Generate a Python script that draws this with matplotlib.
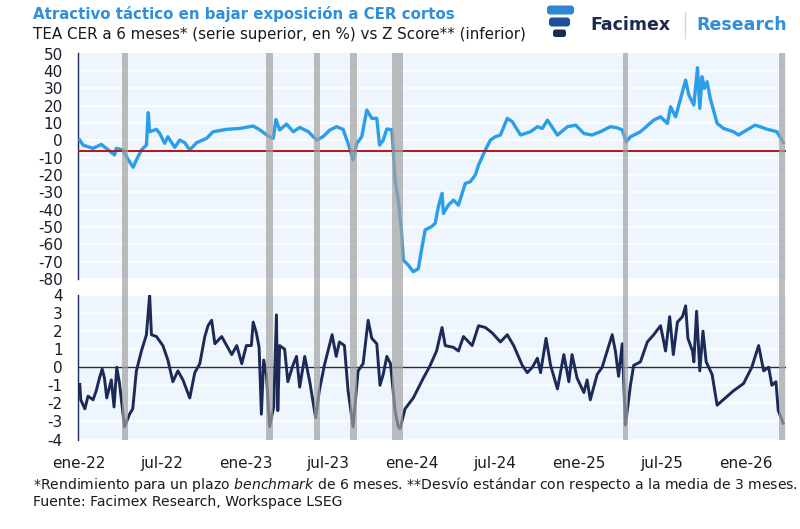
import matplotlib
matplotlib.use("Agg")
import matplotlib.pyplot as plt
import pandas as pd
from matplotlib.patches import FancyBboxPatch

# ---------------- data ----------------
tea_dates = ["2022-01-03", "2022-01-10", "2022-02-01", "2022-02-19", "2022-03-02", "2022-03-20",
             "2022-03-24", "2022-04-08", "2022-04-15", "2022-04-30", "2022-05-07", "2022-05-18",
             "2022-05-29", "2022-06-02", "2022-06-05", "2022-06-20", "2022-06-27", "2022-07-08",
             "2022-07-15", "2022-07-30", "2022-08-10", "2022-08-21", "2022-09-01", "2022-09-16",
             "2022-10-08", "2022-10-22", "2022-11-21", "2022-12-20", "2023-01-18", "2023-02-02",
             "2023-02-20", "2023-03-03", "2023-03-09", "2023-03-17", "2023-04-01", "2023-04-16",
             "2023-04-30", "2023-05-19", "2023-06-06", "2023-06-20", "2023-07-05", "2023-07-20",
             "2023-08-03", "2023-08-14", "2023-08-25", "2023-09-02", "2023-09-13", "2023-09-24",
             "2023-10-05", "2023-10-16", "2023-10-22", "2023-10-30", "2023-11-07", "2023-11-18",
             "2023-11-21", "2023-11-25", "2023-12-02", "2023-12-09", "2023-12-13", "2023-12-24",
             "2024-01-04", "2024-01-15", "2024-01-22", "2024-01-30", "2024-02-13", "2024-02-21",
             "2024-02-28", "2024-03-07", "2024-03-10", "2024-03-21", "2024-04-01", "2024-04-12",
             "2024-04-27", "2024-05-08", "2024-05-19", "2024-05-26", "2024-06-10", "2024-06-21",
             "2024-07-02", "2024-07-13", "2024-07-28", "2024-08-08", "2024-08-26", "2024-09-17",
             "2024-10-02", "2024-10-13", "2024-10-24", "2024-11-15", "2024-12-07", "2024-12-25",
             "2025-01-12", "2025-01-30", "2025-02-17", "2025-03-11", "2025-03-26", "2025-04-06",
             "2025-04-15", "2025-04-24", "2025-05-16", "2025-06-14", "2025-06-29", "2025-07-14",
             "2025-07-21", "2025-08-01", "2025-08-12", "2025-08-23", "2025-08-30", "2025-09-10",
             "2025-09-18", "2025-09-23", "2025-09-28", "2025-10-03", "2025-10-09", "2025-10-16",
             "2025-10-31", "2025-11-14", "2025-12-06", "2025-12-17", "2026-01-04", "2026-01-22",
             "2026-02-02", "2026-02-17", "2026-03-11", "2026-03-25"]
tea_values = [0.0, -2.8, -4.7, -2.4, -4.7, -8.5,
              -4.7, -5.6, -9.5, -15.6, -11.4, -5.6,
              -2.8, 15.9, 4.9, 6.3, 4.0, -1.8,
              2.0, -4.1, 0.1, -1.4, -5.6, -1.4,
              1.1, 4.9, 6.3, 6.8, 8.2, 5.9,
              2.4, 1.1, 12.0, 5.9, 9.3, 4.9,
              7.4, 4.9, 0.1, 2.0, 5.9, 7.8,
              6.3, -1.8, -11.4, -1.8, 2.0, 17.4,
              12.6, 12.6, -2.8, 0.0, 6.5, 6.0,
              -5.6, -23.0, -34.5, -51.7, -69.0, -72.0,
              -75.8, -74.0, -63.3, -51.7, -49.8, -47.9,
              -38.3, -30.6, -42.2, -37.4, -34.5, -37.4,
              -24.9, -23.9, -20.0, -14.3, -5.6, 0.1,
              2.0, 3.0, 12.6, 10.7, 3.0, 4.9,
              7.8, 6.8, 11.6, 3.0, 7.8, 8.7,
              3.9, 3.0, 4.9, 7.8, 7.2, 5.9,
              -0.9, 2.0, 4.9, 11.6, 13.5, 9.7,
              19.3, 13.5, 24.1, 34.7, 26.0, 20.3,
              41.8, 18.4, 36.6, 29.9, 33.7, 24.1,
              9.7, 6.8, 4.9, 3.0, 5.9, 8.7,
              7.8, 6.4, 4.9, -1.3]

z_dates = ["2022-01-03", "2022-01-05", "2022-01-14", "2022-01-21", "2022-02-01", "2022-02-08",
           "2022-02-15", "2022-02-21", "2022-02-26", "2022-03-03", "2022-03-13", "2022-03-19",
           "2022-03-25", "2022-03-31", "2022-04-11", "2022-04-22", "2022-04-29", "2022-05-07",
           "2022-05-18", "2022-05-29", "2022-06-05", "2022-06-09", "2022-06-20", "2022-07-04",
           "2022-07-15", "2022-07-26", "2022-08-06", "2022-08-17", "2022-09-01", "2022-09-12",
           "2022-09-23", "2022-10-04", "2022-10-11", "2022-10-19", "2022-10-26", "2022-11-10",
           "2022-11-21", "2022-12-02", "2022-12-13", "2022-12-24", "2023-01-03", "2023-01-14",
           "2023-01-18", "2023-01-25", "2023-01-31", "2023-02-05", "2023-02-10", "2023-02-16",
           "2023-02-23", "2023-03-04", "2023-03-10", "2023-03-13", "2023-03-17", "2023-03-28",
           "2023-04-04", "2023-04-15", "2023-04-23", "2023-04-30", "2023-05-11", "2023-05-22",
           "2023-06-04", "2023-06-12", "2023-06-23", "2023-07-01", "2023-07-10", "2023-07-19",
           "2023-07-26", "2023-08-06", "2023-08-14", "2023-08-25", "2023-09-05", "2023-09-16",
           "2023-09-27", "2023-10-05", "2023-10-16", "2023-10-23", "2023-10-30", "2023-11-07",
           "2023-11-15", "2023-11-25", "2023-12-02", "2023-12-06", "2023-12-17", "2024-01-04",
           "2024-01-26", "2024-02-09", "2024-02-24", "2024-03-07", "2024-03-14", "2024-04-01",
           "2024-04-12", "2024-04-23", "2024-05-12", "2024-05-26", "2024-06-10", "2024-06-25",
           "2024-07-13", "2024-07-28", "2024-08-11", "2024-08-30", "2024-09-10", "2024-09-21",
           "2024-10-02", "2024-10-09", "2024-10-21", "2024-10-31", "2024-11-15", "2024-11-29",
           "2024-12-10", "2024-12-17", "2024-12-28", "2025-01-12", "2025-01-19", "2025-01-26",
           "2025-02-10", "2025-02-21", "2025-03-04", "2025-03-15", "2025-03-22", "2025-03-29",
           "2025-04-06", "2025-04-13", "2025-04-24", "2025-05-01", "2025-05-16", "2025-05-31",
           "2025-06-14", "2025-06-29", "2025-07-10", "2025-07-19", "2025-07-27", "2025-08-05",
           "2025-08-16", "2025-08-23", "2025-08-28", "2025-09-07", "2025-09-10", "2025-09-16",
           "2025-09-23", "2025-09-30", "2025-10-07", "2025-10-20", "2025-10-31", "2025-11-18",
           "2025-12-06", "2025-12-28", "2026-01-15", "2026-01-30", "2026-02-10", "2026-02-21",
           "2026-02-28", "2026-03-09", "2026-03-14", "2026-03-25"]
z_values = [-0.95, -1.8, -2.3, -1.6, -1.8, -1.3,
            -0.6, -0.1, -0.6, -1.7, -0.7, -2.2,
            0.0, -0.9, -3.3, -2.6, -2.3, -0.2,
            0.9, 1.8, 4.0, 1.8, 1.7, 1.2,
            0.4, -0.8, -0.2, -0.7, -1.7, -0.3,
            0.2, 1.7, 2.3, 2.6, 1.3, 1.7,
            1.2, 0.7, 1.2, 0.2, 1.2, 1.2,
            2.5, 1.9, 1.1, -2.6, 0.4, -0.4,
            -3.3, -2.2, 2.9, -2.4, 1.2, 1.0,
            -0.8, 0.1, 0.6, -1.1, 0.6, -0.8,
            -2.8, -1.3, 0.1, 0.9, 1.8, 0.6,
            1.4, 1.2, -1.3, -3.3, -0.2, 0.2,
            2.6, 1.6, 1.3, -1.0, -0.4, 0.6,
            0.2, -2.4, -3.3, -3.4, -2.3, -1.7,
            -0.6, 0.05, 0.9, 2.2, 1.2, 1.1,
            0.9, 1.7, 1.2, 2.3, 2.2, 1.9,
            1.4, 1.8, 1.2, 0.1, -0.3, 0.0,
            0.5, -0.3, 1.6, 0.1, -1.2, 0.7,
            -0.8, 0.7, -0.6, -1.4, -0.7, -1.8,
            -0.4, 0.0, 0.9, 1.8, 0.9, -0.5,
            1.3, -3.2, -1.0, 0.1, 0.3, 1.4,
            1.8, 2.3, 0.9, 2.8, 0.7, 2.5,
            2.8, 3.4, 1.6, 0.9, 0.3, 3.1,
            -0.2, 2.0, 0.3, -0.4, -2.1, -1.7,
            -1.3, -0.9, 0.0, 1.2, -0.2, 0.0,
            -1.0, -0.8, -2.4, -3.1]

band_starts = ["2022-04-06", "2023-02-16", "2023-05-31", "2023-08-19", "2023-11-19", "2025-04-07", "2026-03-15"]
band_ends = ["2022-04-19", "2023-03-02", "2023-06-14", "2023-09-02", "2023-12-12", "2025-04-19", "2026-03-29"]

threshold = -6
top_ticks = list(range(-80, 51, 10))
bottom_ticks = list(range(-4, 5))
xtick_dates = ["2022-01-01", "2022-07-01", "2023-01-01", "2023-07-01", "2024-01-01",
               "2024-07-01", "2025-01-01", "2025-07-01", "2026-01-01"]
xtick_labels = ["ene-22", "jul-22", "ene-23", "jul-23", "ene-24", "jul-24", "ene-25", "jul-25", "ene-26"]

title = "Atractivo táctico en bajar exposición a CER cortos"
subtitle = "TEA CER a 6 meses* (serie superior, en %) vs Z Score** (inferior)"
note1 = r"*Rendimiento para un plazo $\it{benchmark}$ de 6 meses. **Desvío estándar con respecto a la media de 3 meses."
note2 = "Fuente: Facimex Research, Workspace LSEG"

# ---------------- style ----------------
plt.rcParams["font.family"] = ["DejaVu Sans"]
plt.rcParams["axes.unicode_minus"] = False
NAVY = "#1c2a57"
LIGHT = "#2b9ee8"
BG = "#eff5fc"
BAND = "#a2a2a2"
TXT = "#1b1b2b"

fig = plt.figure(figsize=(8.0, 5.29), dpi=100)
fig.patch.set_facecolor("white")

W, H = 800.0, 529.0
x0, x1 = 78, 786
ax_top = fig.add_axes([x0 / W, 1 - 279 / H, (x1 - x0) / W, (279 - 53.5) / H])
ax_bot = fig.add_axes([x0 / W, 1 - 439.5 / H, (x1 - x0) / W, (439.5 - 295) / H])

td = pd.to_datetime(tea_dates)
zd = pd.to_datetime(z_dates)
xlim = (pd.Timestamp("2021-12-30"), pd.Timestamp("2026-03-31"))

for ax in (ax_top, ax_bot):
    ax.set_facecolor(BG)
    ax.yaxis.grid(True, color="white", lw=1.1)
    ax.set_axisbelow(True)
    for s in ("top", "right", "bottom"):
        ax.spines[s].set_visible(False)
    ax.spines["left"].set_color(NAVY)
    ax.spines["left"].set_linewidth(1.0)
    ax.tick_params(axis="both", length=0, labelsize=11, colors=TXT, pad=11)
    ax.set_xlim(*xlim)

# top panel
ax_top.plot(td, tea_values, color=LIGHT, lw=2.4, zorder=3, solid_joinstyle="round")
ax_top.axhline(threshold, color="#b81414", lw=1.4, zorder=4)
ax_top.set_ylim(-80, 50)
ax_top.set_yticks(top_ticks)
ax_top.set_xticks([])

# bottom panel
ax_bot.plot(zd, z_values, color=NAVY, lw=2.1, zorder=3, solid_joinstyle="round")
ax_bot.axhline(0, color=NAVY, lw=1.0, zorder=2)
ax_bot.set_ylim(-4, 4)
ax_bot.set_yticks(bottom_ticks)
ax_bot.set_xticks(pd.to_datetime(xtick_dates))
ax_bot.set_xticklabels(xtick_labels)
ax_bot.tick_params(axis="x", pad=12)

gap_frac = (295 - 279) / (279 - 53.5)
for s, e in zip(band_starts, band_ends):
    ax_top.axvspan(pd.Timestamp(s), pd.Timestamp(e), ymin=-gap_frac, ymax=1.0,
                   color=BAND, alpha=0.7, lw=0, zorder=5, clip_on=False)
    ax_bot.axvspan(pd.Timestamp(s), pd.Timestamp(e), ymin=0, ymax=1.0,
                   color=BAND, alpha=0.7, lw=0, zorder=5)

# overlay for texts and logo (pixel coordinates)
ov = fig.add_axes([0, 0, 1, 1], zorder=10)
ov.set_xlim(0, W)
ov.set_ylim(H, 0)
ov.axis("off")
ov.patch.set_alpha(0)

ov.text(33, 14, title, color="#2f8fdc", fontsize=10.8, fontweight="bold", va="center", ha="left")
ov.text(33, 35, subtitle, color="#1a1a1a", fontsize=10.9, va="center", ha="left")
ov.text(33, 484, note1, color="#1a1a1a", fontsize=10.1, va="center", ha="left")
ov.text(33, 502, note2, color="#1a1a1a", fontsize=10.1, va="center", ha="left")

# logo
ov.add_patch(FancyBboxPatch((547, 5.5), 27, 9, boxstyle="round,pad=0,rounding_size=3",
                            fc="#2e86d4", ec="none"))
ov.add_patch(FancyBboxPatch((549, 17.5), 21, 9, boxstyle="round,pad=0,rounding_size=3",
                            fc="#1f4f9a", ec="none"))
ov.add_patch(FancyBboxPatch((553, 29.5), 13, 7.5, boxstyle="round,pad=0,rounding_size=2.5",
                            fc="#1b2b58", ec="none"))
ov.text(590, 25, "Facimex", color="#1b2a4e", fontsize=12.5, fontweight="bold", va="center", ha="left")
ov.plot([685, 685], [12, 38], color="#d6d6d6", lw=1)
ov.text(696, 25, "Research", color="#2f8fdc", fontsize=12.5, fontweight="bold", va="center", ha="left")

fig.savefig("out.png", dpi=100, facecolor="white")
